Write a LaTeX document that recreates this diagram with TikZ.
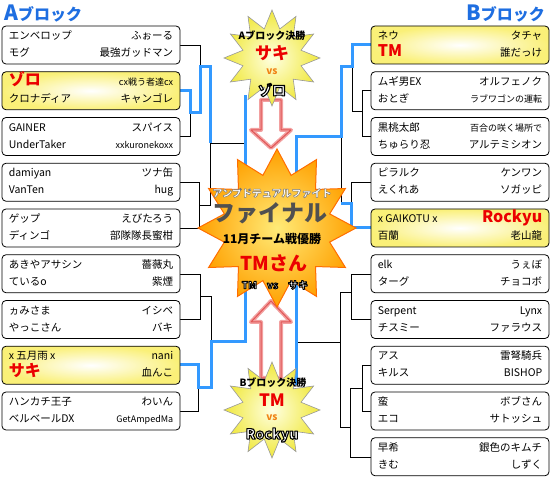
\documentclass[tikz,border=0pt]{standalone}
\usepackage{fontspec}
\setmainfont{Noto Sans CJK JP}
\usetikzlibrary{shapes.geometric}
\definecolor{blu}{RGB}{51,153,255}
\definecolor{hdblu}{RGB}{30,110,225}
\definecolor{rd}{RGB}{235,0,0}
\definecolor{orng}{RGB}{240,130,20}
\definecolor{ylw}{RGB}{250,240,120}
\definecolor{pinkg}{RGB}{242,160,160}
\definecolor{redg}{RGB}{225,85,85}
\definecolor{stin}{RGB}{255,255,225}
\definecolor{stout}{RGB}{240,232,60}
\definecolor{fin}{RGB}{255,235,120}
\definecolor{fout}{RGB}{255,160,0}
\definecolor{fdraw}{RGB}{255,110,0}
\definecolor{fgray}{RGB}{80,80,80}
% outlined text: #1 stroke colour as "r g b" (0..1), #2 stroke width, #3 fill colour, #4 text
\newcommand\olt[4]{\textcolor{#3}{\special{pdf:literal direct #1 RG #2 w 1 j 2 Tr}#4\special{pdf:literal direct 0 Tr}}}
\newcommand\bigred[1]{{\fontsize{16}{16}\selectfont\bfseries\color{rd}#1}}
\newcommand\sm[1]{{\fontsize{9}{10}\selectfont #1}}
\tikzset{
  pbox/.style={draw=black, line width=0.8pt, rounded corners=4pt, fill=white, minimum width=178pt, minimum height=38pt, inner sep=0pt},
  ybox/.style={pbox, inner color=white, outer color=ylw},
  nm/.style={font=\fontsize{10.5}{12}\selectfont, inner sep=0pt},
  tlx/.style={nm, anchor=base west},
  trx/.style={nm, anchor=base east},
  bline/.style={draw=black, line width=0.9pt},
  wline/.style={draw=blu, line width=3pt},
  sttext/.style={inner sep=0pt, font=\bfseries},
  ystar/.style={star, star points=12, star point ratio=1.6, minimum size=96pt, draw=gray!80, line width=0.6pt, inner color=stin, outer color=stout},
  arrowbody/.style={fill=white, draw=pinkg, line width=4pt, line join=round},
  arrowline/.style={draw=redg, line width=1pt, line join=round},
}
\newcommand\ent[8]{%
  \node[#2] (#1) at (#3,#4+19) {};
  \node[tlx] (#1tl) at ([xshift=7pt,yshift=-14pt]#1.north west) {#5};
  \node[trx] (#1tr) at ([xshift=-7pt,yshift=-14pt]#1.north east) {#6};
  \node[tlx] (#1bl) at ([xshift=7pt,yshift=-31pt]#1.north west) {#7};
  \node[trx] (#1br) at ([xshift=-7pt,yshift=-31pt]#1.north east) {#8};
}
\begin{document}
\begin{tikzpicture}[x=1pt,y=-1pt]
\useasboundingbox[fill=white] (0,0) rectangle (550,478);
% ---------- connectors left
\draw[bline] (180,45) -- (200,45) -- (200,67);
\draw[bline] (180,136.5) -- (190,136.5) -- (190,113);
\draw[bline] (180,182) -- (199,182) -- (199,228) -- (180,228);
\draw[bline] (199,205) -- (210,205) -- (210,143) -- (245,143);
\draw[bline] (180,274) -- (200,274) -- (200,319.5) -- (180,319.5);
\draw[bline] (200,296) -- (211,296) -- (211,342);
\draw[bline] (180,411) -- (198,411) -- (198,388);
\draw[wline] (180,90.75) -- (190,90.75) -- (190,113) -- (200,113) -- (200,67) -- (210,67) -- (210,143);
\draw[wline] (180,365) -- (198,365) -- (198,388) -- (211,388) -- (211,342) -- (245,342) -- (245,95);
% ---------- connectors right
\draw[bline] (371,90.75) -- (362,90.75) -- (362,136.5) -- (371,136.5);
\draw[bline] (362,111) -- (352,111) -- (352,67);
\draw[bline] (371,182) -- (351,182) -- (351,204);
\draw[bline] (341,137) -- (341,204);
\draw[bline] (371,274) -- (351,274) -- (351,319.5) -- (371,319.5);
\draw[bline] (371,365) -- (362,365) -- (362,411) -- (371,411);
\draw[bline] (362,388) -- (350,388) -- (350,457) -- (371,457);
\draw[bline] (351,292) -- (340,292) -- (340,427) -- (350,427);
\draw[bline] (340,342) -- (296,342);
\draw[wline] (371,45) -- (352,45) -- (352,67) -- (341,67) -- (341,137) -- (296,137) -- (296,385);
\draw[wline] (371,228) -- (351,228) -- (351,204) -- (341,204);
% ---------- headers
\node[inner sep=0pt, font=\bfseries, text=hdblu, anchor=west] (hA) at (4,14) {{\fontsize{21}{21}\selectfont A}{\fontsize{16}{16}\selectfont ブロック}};
\node[inner sep=0pt, font=\bfseries, text=hdblu, anchor=east] (hB) at (545,14) {{\fontsize{21}{21}\selectfont B}{\fontsize{16}{16}\selectfont ブロック}};
% ---------- left entries
\ent{L1}{pbox}{91}{26}{エンベロップ}{ふぉーる}{モグ}{最強ガッドマン}
\ent{L2}{ybox}{91}{71.75}{\bigred{ゾロ}}{\sm{cx戦う者達cx}}{クロナディア}{キャンゴレ}
\ent{L3}{pbox}{91}{117.5}{GAINER}{スパイス}{UnderTaker}{\sm{xxkuronekoxx}}
\ent{L4}{pbox}{91}{163.25}{damiyan}{ツナ缶}{VanTen}{hug}
\ent{L5}{pbox}{91}{209}{ゲップ}{えびたろう}{ディンゴ}{部隊隊長蜜柑}
\ent{L6}{pbox}{91}{254.75}{あきやアサシン}{薔薇丸}{ているo}{紫煙}
\ent{L7}{pbox}{91}{300.5}{ヵみさま}{イシベ}{やっこさん}{バキ}
\ent{L8}{ybox}{91}{346.25}{x 五月雨 x}{nani}{\bigred{サキ}}{血んこ}
\ent{L9}{pbox}{91}{392}{ハンカチ王子}{わいん}{ベルベールDX}{\sm{GetAmpedMa}}
% ---------- right entries
\ent{R1}{ybox}{460}{26}{ネウ}{タチャ}{\bigred{TM}}{誰だっけ}
\ent{R2}{pbox}{460}{71.75}{ムギ男EX}{オルフェノク}{おとぎ}{\sm{ラブワゴンの運転}}
\ent{R3}{pbox}{460}{117.5}{黒桃太郎}{\sm{百合の咲く場所で}}{ちゅらり忍}{アルテミシオン}
\ent{R4}{pbox}{460}{163.25}{ピラルク}{ケンワン}{えくれあ}{ソガッピ}
\ent{R5}{ybox}{460}{209}{x GAIKOTU x}{\bigred{Rockyu}}{百蘭}{老山龍}
\ent{R6}{pbox}{460}{254.75}{elk}{うぇぼ}{ターグ}{チョコボ}
\ent{R7}{pbox}{460}{300.5}{Serpent}{Lynx}{チスミー}{ファラウス}
\ent{R8}{pbox}{460}{346.25}{アス}{雷弩騎兵}{キルス}{BISHOP}
\ent{R9}{pbox}{460}{392}{蛮}{ボブさん}{エコ}{サトッシュ}
\ent{R10}{pbox}{460}{437.75}{早希}{銀色のキムチ}{きむ}{しずく}
% ---------- arrows
\path[arrowbody] (261,100) -- (281,100) -- (281,130) -- (291,130) -- (271,148) -- (251,130) -- (261,130) -- cycle;
\path[arrowline] (261,100) -- (281,100) -- (281,130) -- (291,130) -- (271,148) -- (251,130) -- (261,130) -- cycle;
\path[arrowbody] (271,301) -- (291,322) -- (281,322) -- (281,378) -- (261,378) -- (261,322) -- (251,322) -- cycle;
\path[arrowline] (271,301) -- (291,322) -- (281,322) -- (281,378) -- (261,378) -- (261,322) -- (251,322) -- cycle;
% ---------- A star
\node[ystar] (sA) at (272,58) {};
\node[sttext, font=\fontsize{10}{10}\selectfont\bfseries] (sAt) at (272,36) {Aブロック決勝};
\node[sttext, font=\fontsize{17}{17}\selectfont\bfseries, text=rd] (sAw) at (272,53) {サキ};
\node[sttext, font=\fontsize{10}{10}\selectfont\bfseries, text=orng] (sAv) at (272,72) {vs};
\node[sttext, font=\fontsize{14}{14}\selectfont\bfseries] (sAl) at (272,90) {\olt{0 0 0}{1.1}{white}{ゾロ}};
% ---------- B star
\node[ystar] (sB) at (272,410) {};
\node[sttext, font=\fontsize{10}{10}\selectfont\bfseries] (sBt) at (273,383) {Bブロック決勝};
\node[sttext, font=\fontsize{17}{17}\selectfont\bfseries, text=rd] (sBw) at (272,400) {TM};
\node[sttext, font=\fontsize{10}{10}\selectfont\bfseries, text=orng] (sBv) at (272,418) {vs};
\node[sttext, font=\fontsize{14}{14}\selectfont\bfseries] (sBl) at (272,435) {\olt{0 0 0}{1.1}{white}{Rockyu}};
% ---------- final star
\node[star, star points=12, star point ratio=1.45, minimum size=158pt, draw=fdraw, line width=1pt, inner color=fin, outer color=fout] (sF) at (277,228) {};
\node[sttext, font=\fontsize{10}{10}\selectfont\bfseries] (sFa) at (272,193) {\olt{0.45 0.45 0.45}{0.45}{white}{アンプドテュアルファイト}};
\node[sttext, font=\fontsize{23}{23}\selectfont\bfseries, text=fgray] (sFb) at (270,213) {ファイナル};
\node[sttext, font=\fontsize{12}{12}\selectfont\bfseries, text=black] (sFc) at (272,239) {11月チーム戦優勝};
\node[sttext, font=\fontsize{19}{19}\selectfont\bfseries, text=rd] (sFd) at (274,263) {TMさん};
\node[sttext, font=\fontsize{10}{10}\selectfont\bfseries] (sFe) at (275,285) {\olt{0 0 0}{0.9}{white}{TM\quad vs\quad サキ}};
\end{tikzpicture}
\end{document}
